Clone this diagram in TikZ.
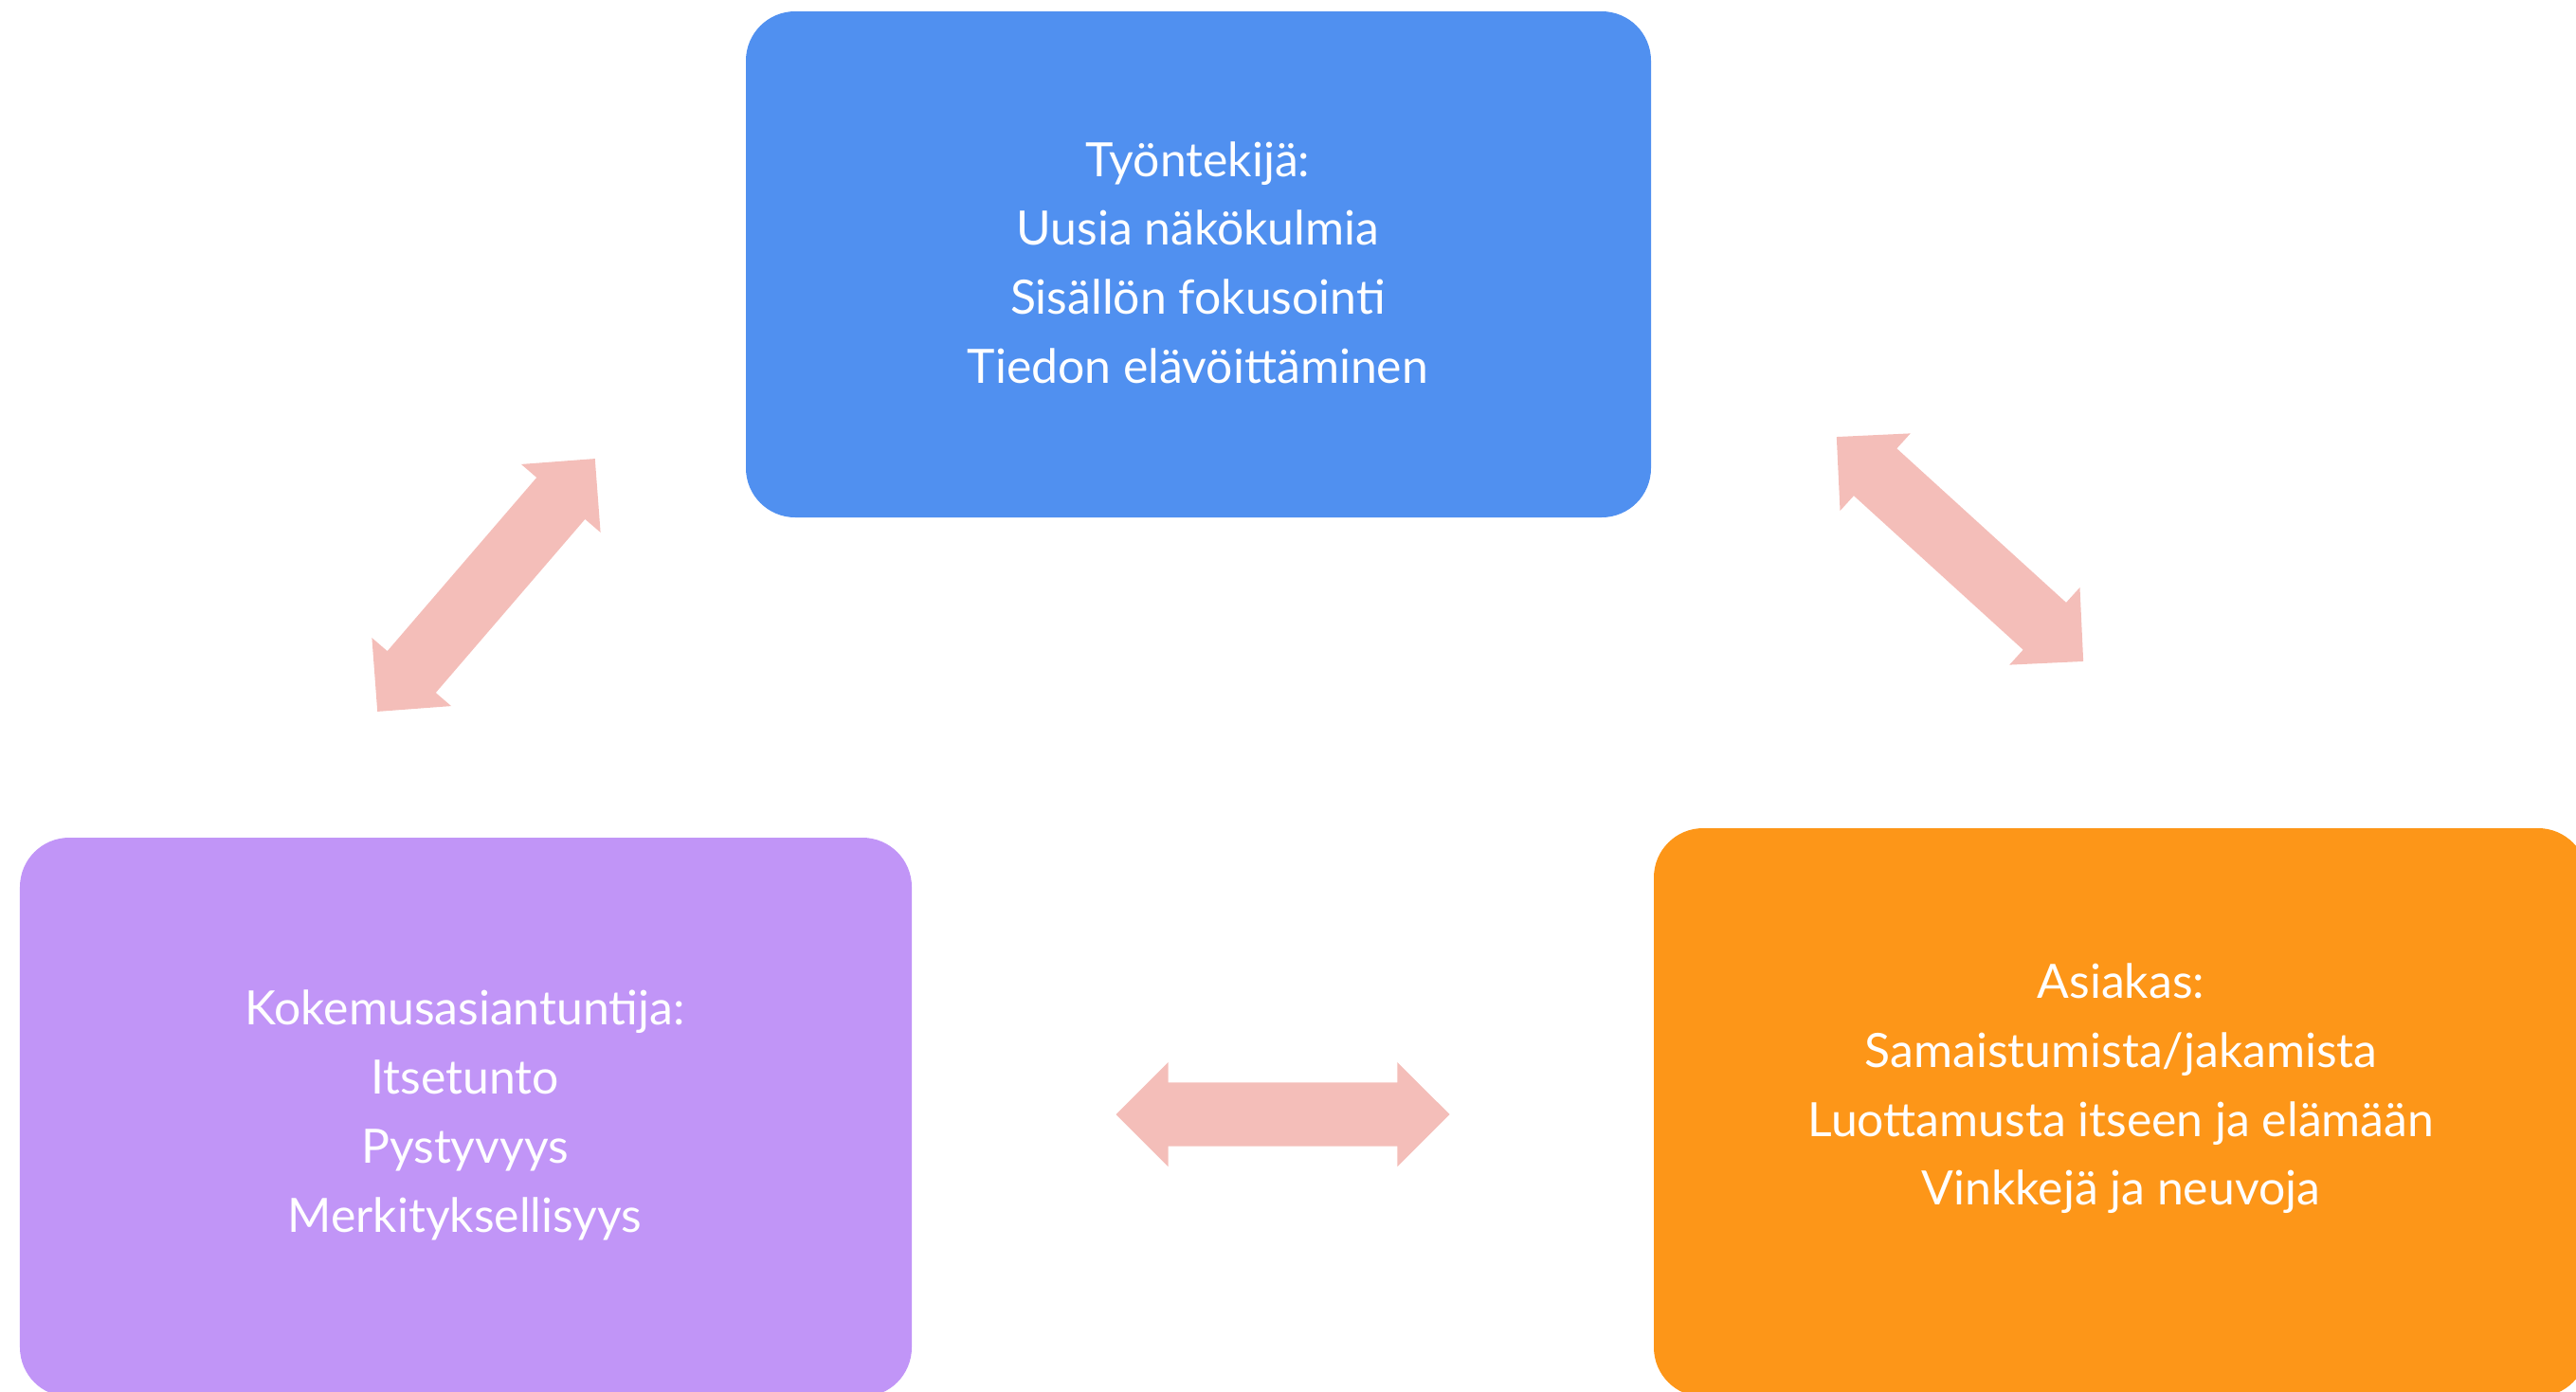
\documentclass[tikz,border=0pt]{standalone}
\usepackage{fontspec}
\setmainfont{Lato}
\usetikzlibrary{shapes.arrows}
\definecolor{tyoblue}{RGB}{80,144,240}
\definecolor{kokpurple}{RGB}{193,149,247}
\definecolor{asiorange}{RGB}{253,150,24}
\definecolor{arrowpink}{RGB}{244,190,185}
\begin{document}
\begin{tikzpicture}[
    roundbox/.style={rectangle, rounded corners=0.52cm, inner sep=0pt},
    boxtext/.style={text=white, align=center, inner sep=0pt,
      font=\fontsize{14.2}{20.7}\selectfont},
    twoway/.style={double arrow, fill=arrowpink, inner xsep=0pt, inner ysep=0.33cm,
      minimum height=3.52cm,
      double arrow head extend=0.215cm, double arrow tip angle=90}
  ]
  \useasboundingbox (0,0) rectangle (27.18,-14.69);
  % boxes
  \node[roundbox, fill=tyoblue, minimum width=9.55cm, minimum height=5.34cm] (tyo) at (12.645,-2.79) {};
  \node[roundbox, fill=kokpurple, minimum width=9.41cm, minimum height=5.9cm] (kok) at (4.915,-11.79) {};
  \node[roundbox, fill=asiorange, minimum width=9.85cm, minimum height=6.0cm] (asi) at (22.375,-11.74) {};
  % texts
  \node[boxtext] (tyotext) at (12.64,-2.77) {Työntekijä:\\Uusia näkökulmia\\Sisällön fokusointi\\Tiedon elävöittäminen};
  \node[boxtext] (koktext) at (4.905,-11.77) {Kokemusasiantuntija:\\Itsetunto\\Pystyvyys\\Merkityksellisyys};
  \node[boxtext] (asitext) at (22.38,-11.49) {Asiakas:\\Samaistumista/jakamista\\Luottamusta itseen ja elämään\\Vinkkejä ja neuvoja};
  % arrows
  \node[twoway, rotate=49.3] (kokTyo) at (5.13,-6.175) {};
  \node[twoway, rotate=-42.3] (tyoAsi) at (20.68,-5.795) {};
  \node[twoway] (kokAsi) at (13.535,-11.76) {};
\end{tikzpicture}
\end{document}
